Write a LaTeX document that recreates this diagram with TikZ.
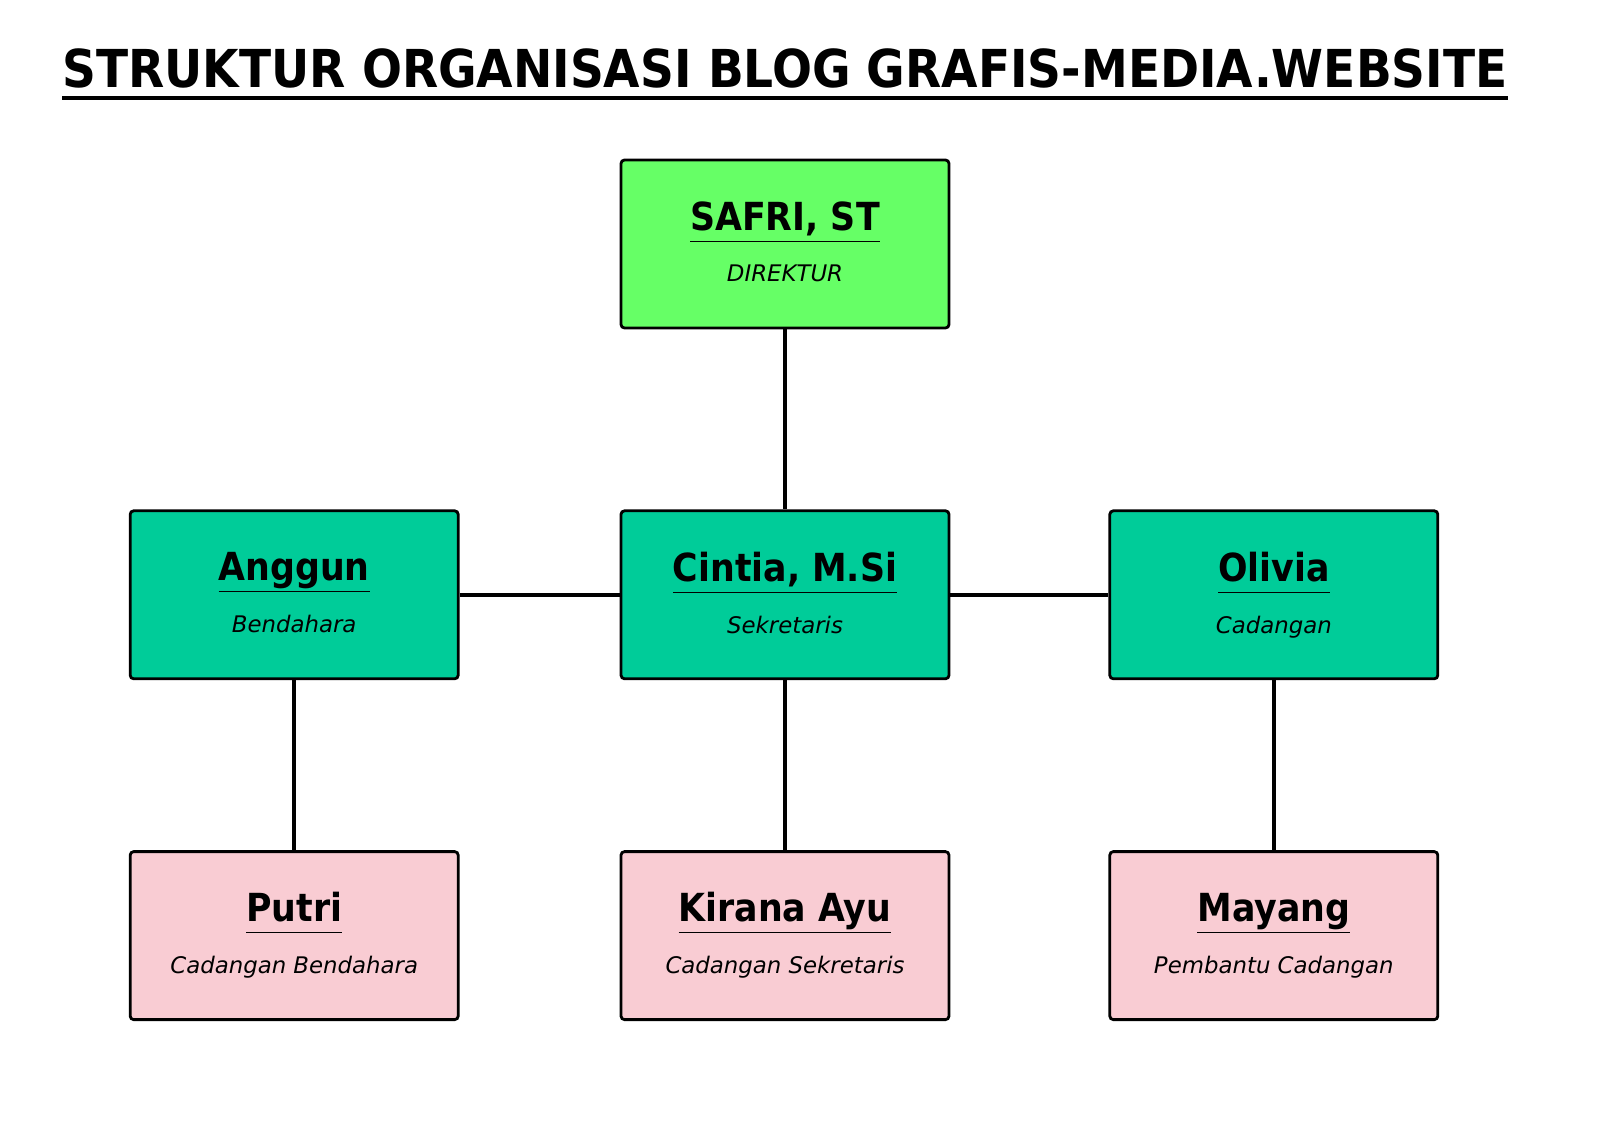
\documentclass[tikz,border=0pt]{standalone}
\usepackage{fontspec}
\setmainfont{DejaVu Sans}
\newfontfamily\condfont{DejaVu Sans Condensed}
\usetikzlibrary{positioning}
\definecolor{headgreen}{HTML}{66FF66}
\definecolor{midteal}{HTML}{00CC99}
\definecolor{lowpink}{HTML}{F9CCD3}
\tikzstyle{jabatan}=[draw=black, line width=1.6pt, rounded corners=2pt, minimum width=6.56cm, minimum height=3.36cm, align=center, inner sep=0pt]
\tikzstyle{garis}=[line width=2.4pt]
\newcommand{\nama}[1]{{\condfont\bfseries\fontsize{22}{24}\selectfont\underline{#1\vphantom{Agy,}}}}
\newcommand{\peran}[1]{{\itshape\fontsize{13}{15}\selectfont #1\vphantom{Agy}}}
\newcommand{\isi}[2]{\nama{#1}\\[12pt]\peran{#2}}

\begin{document}
\begin{tikzpicture}
    \useasboundingbox (0,0) rectangle (32,22.62);
    \node (judul) at (15.7,21.26) {\resizebox{28.9cm}{!}{\condfont\bfseries STRUKTUR ORGANISASI BLOG GRAFIS-MEDIA.WEBSITE}};
    \draw[line width=2pt] (1.24,20.66) -- (30.16,20.66);

    \node[jabatan, fill=headgreen] (direktur) at (15.7,17.74) {\isi{SAFRI, ST}{DIREKTUR}};
    \node[jabatan, fill=midteal] (sekretaris) [below=3.6cm of direktur] {\isi{Cintia, M.Si}{Sekretaris}};
    \node[jabatan, fill=midteal] (bendahara) [left=3.2cm of sekretaris] {\isi{Anggun}{Bendahara}};
    \node[jabatan, fill=midteal] (cadangan) [right=3.16cm of sekretaris] {\isi{Olivia}{Cadangan}};
    \node[jabatan, fill=lowpink] (putri) [below=3.4cm of bendahara] {\isi{Putri}{Cadangan Bendahara}};
    \node[jabatan, fill=lowpink] (kirana) [below=3.4cm of sekretaris] {\isi{Kirana Ayu}{Cadangan Sekretaris}};
    \node[jabatan, fill=lowpink] (mayang) [below=3.4cm of cadangan] {\isi{Mayang}{Pembantu Cadangan}};

    \draw[garis] (direktur) -- (sekretaris);
    \draw[garis] (bendahara) -- (sekretaris);
    \draw[garis] (sekretaris) -- (cadangan);
    \draw[garis] (bendahara) -- (putri);
    \draw[garis] (sekretaris) -- (kirana);
    \draw[garis] (cadangan) -- (mayang);
\end{tikzpicture}
\end{document}
